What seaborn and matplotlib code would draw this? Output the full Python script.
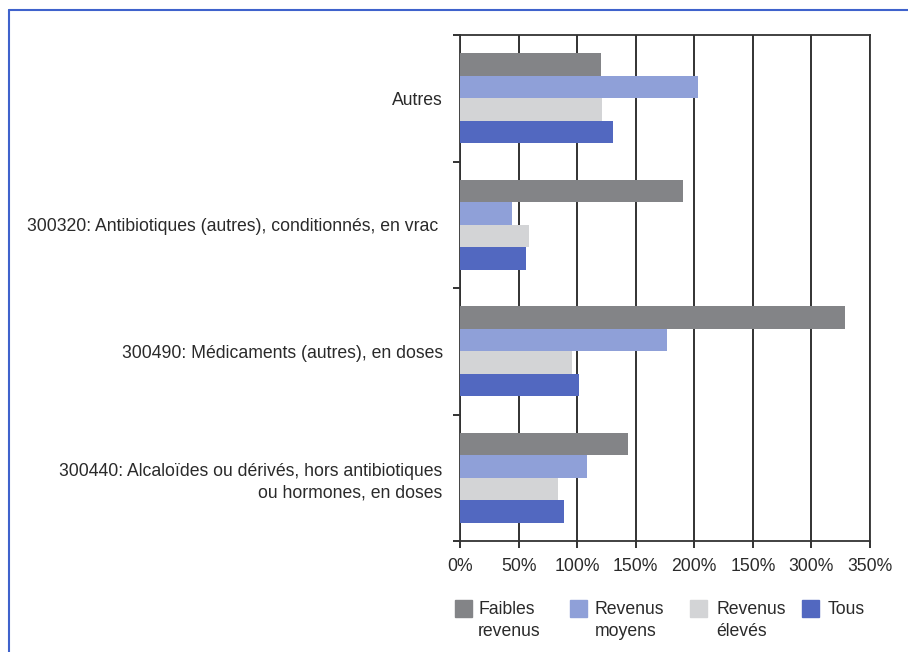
import matplotlib
matplotlib.use("Agg")
import matplotlib.pyplot as plt
import seaborn as sns
import pandas as pd
from matplotlib.patches import Rectangle
from matplotlib.lines import Line2D

categories = [
    "Autres",
    "300320: Antibiotiques (autres), conditionnés, en vrac ",
    "300490: Médicaments (autres), en doses",
    "300440: Alcaloïdes ou dérivés, hors antibiotiques\nou hormones, en doses",
]
series = ["Faibles revenus", "Revenus moyens", "Revenus élevés", "Tous"]
legend_labels = ["Faibles\nrevenus", "Revenus\nmoyens", "Revenus\nélevés", "Tous"]
faibles = [120, 190, 329, 143]
moyens = [203, 44, 177, 108]
eleves = [121, 59, 96, 84]
tous = [131, 56, 102, 89]
tick_values = [0, 50, 100, 150, 200, 250, 300, 350]
tick_labels = ["0%", "50%", "100%", "150%", "200%", "150%", "300%", "350%"]
colors = ["#838487", "#8fa0d8", "#d3d4d6", "#5268c0"]

rows = []
for s, vals in zip(series, [faibles, moyens, eleves, tous]):
    for c, v in zip(categories, vals):
        rows.append({"cat": c, "serie": s, "val": v})
df = pd.DataFrame(rows)

sns.set_style("white")
plt.rcParams["font.family"] = ["Liberation Sans", "DejaVu Sans"]
plt.rcParams["font.size"] = 12.7

fig = plt.figure(figsize=(9.08, 6.52), dpi=100)
ax = fig.add_axes([460/908, 1-541/652, 410/908, 506/652])

sns.barplot(data=df, y="cat", x="val", hue="serie", order=categories,
            hue_order=series, palette=colors, orient="h", width=0.71,
            saturation=1, ax=ax, legend=False, zorder=3, linewidth=0)

ax.set_xlim(0, 350)
ax.set_ylim(3.5, -0.5)
ax.set_xticks(tick_values)
ax.set_xticklabels(tick_labels, color="#2a2a2a")
ax.set_xlabel("")
ax.set_ylabel("")
for v in tick_values:
    ax.axvline(v, color="#222222", lw=1.3, zorder=1)
ax.set_yticks(range(len(categories)))
ax.set_yticklabels(categories, color="#2a2a2a", ha="right", multialignment="right",
                   linespacing=1.35)
ax.set_yticks([-0.5, 0.5, 1.5, 2.5, 3.5], minor=True)
ax.tick_params(axis="y", which="major", length=0, pad=12.5)
ax.tick_params(axis="y", which="minor", length=5, width=1.3, color="#222222", direction="out", left=True)
ax.tick_params(axis="x", which="major", length=5, width=1.3, color="#222222", direction="out", bottom=True, pad=7)
for sp in ax.spines.values():
    sp.set_visible(True)
    sp.set_color("#333333")
    sp.set_linewidth(1.3)

# legend drawn below
hx = [455, 570, 690, 802]
tx = [478, 595, 716, 828]
for i in range(4):
    fig.patches.append(Rectangle((hx[i]/908, 1-617/652), 17/908, 17/652,
                                 transform=fig.transFigure, color=colors[i]))
    fig.text(tx[i]/908, 1-601/652, legend_labels[i], ha="left", va="top",
             color="#2a2a2a", fontsize=12.7, linespacing=1.35)

# open blue frame
fig.add_artist(Line2D([9/908, 9/908], [0, 1-10/652], transform=fig.transFigure, color="#3f62cc", lw=1.5))
fig.add_artist(Line2D([9/908, 1], [1-10/652, 1-10/652], transform=fig.transFigure, color="#3f62cc", lw=1.5))

fig.savefig("out.png", dpi=100)
